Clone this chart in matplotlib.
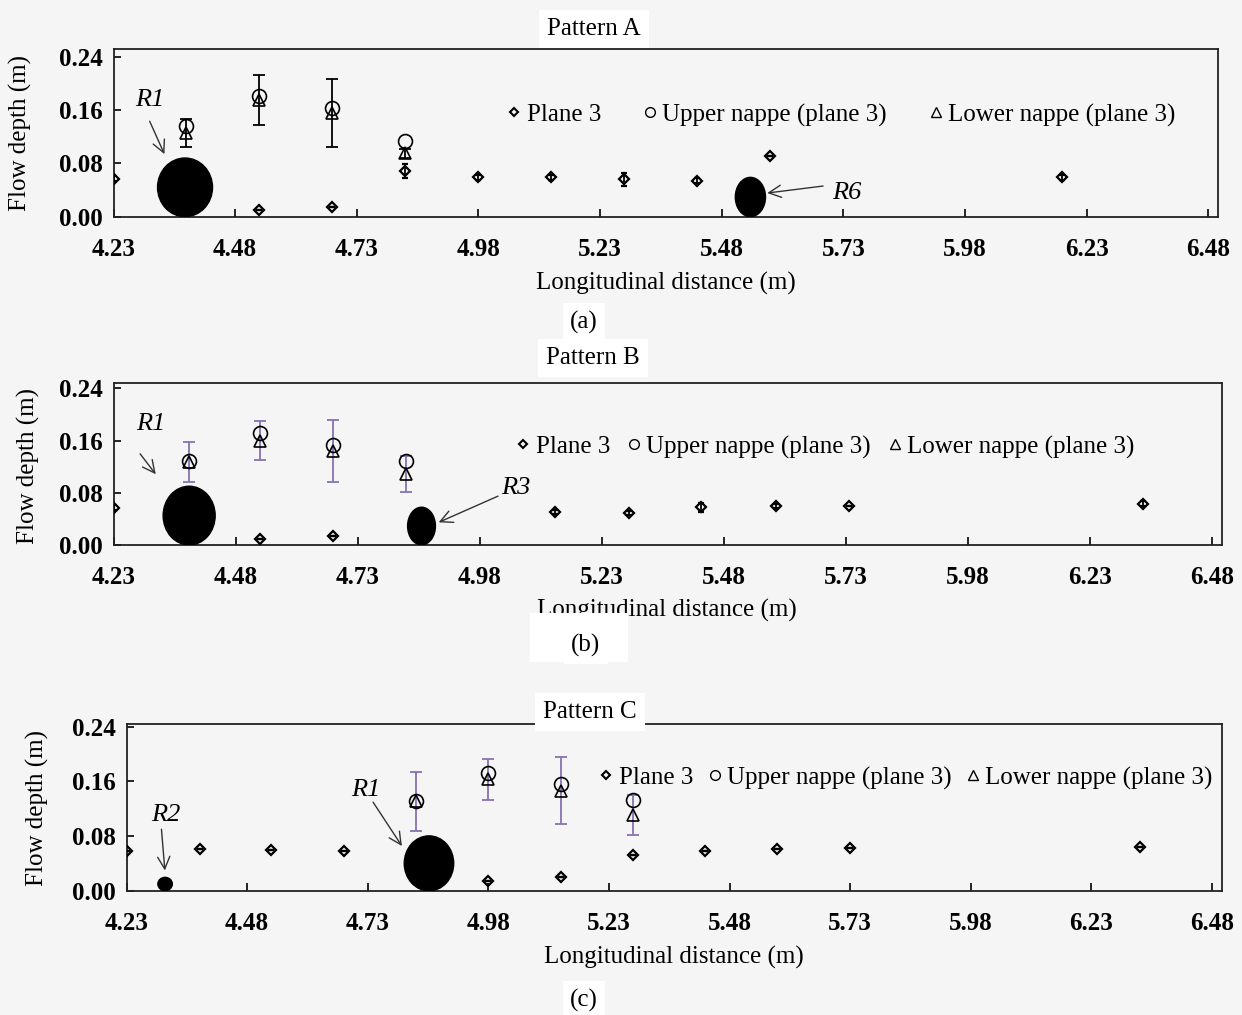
import matplotlib
matplotlib.use('Agg')
import matplotlib.pyplot as plt
from matplotlib.patches import Ellipse, Rectangle
from matplotlib.lines import Line2D
import numpy as np

plt.rcParams['font.family'] = ['Liberation Serif', 'DejaVu Serif']

W, H = 1242, 1015
BG = '#f5f5f5'
PURPLE = '#8672b0'
FS = 18

# --- Pattern A ---
a_plane_x = [4.23, 4.53, 4.68, 4.83, 4.98, 5.13, 5.28, 5.43, 5.58, 6.18]
a_plane_y = [0.057, 0.010, 0.015, 0.0685, 0.059, 0.059, 0.056, 0.054, 0.0915, 0.059]
a_plane_err = [0.004, 0, 0, 0.011, 0.004, 0.004, 0.010, 0.004, 0, 0.004]
a_nappe_x = [4.38, 4.53, 4.68, 4.83]
a_upper_y = [0.1365, 0.181, 0.1635, 0.114]
a_lower_y = [0.125, 0.175, 0.156, 0.095]
a_lower_err = [0.021, 0.037, 0.051, 0.007]
a_rock_x = [4.377, 5.539]
a_rock_y = [0.044, 0.0295]
a_rock_w = [0.113, 0.062]
a_rock_h = [0.088, 0.059]

# --- Pattern B ---
b_plane_x = [4.23, 4.53, 4.68, 5.135, 5.286, 5.433, 5.587, 5.737, 6.34]
b_plane_y = [0.057, 0.009, 0.014, 0.050, 0.0495, 0.0577, 0.060, 0.060, 0.063]
b_plane_err = [0.004, 0, 0, 0.003, 0.003, 0.007, 0.003, 0, 0.004]
b_nappe_x = [4.385, 4.53, 4.68, 4.83]
b_upper_y = [0.129, 0.171, 0.153, 0.129]
b_lower_y = [0.127, 0.160, 0.144, 0.109]
b_lower_err = [0.031, 0.030, 0.048, 0.028]
b_rock_x = [4.385, 4.861]
b_rock_y = [0.045, 0.029]
b_rock_w = [0.1066, 0.057]
b_rock_h = [0.090, 0.0577]

# --- Pattern C ---
c_plane_x = [4.23, 4.382, 4.53, 4.681, 4.98, 5.13, 5.28, 5.43, 5.578, 5.729, 6.33]
c_plane_y = [0.058, 0.061, 0.060, 0.058, 0.0146, 0.0195, 0.052, 0.0585, 0.0615, 0.063, 0.0644]
c_plane_err = [0] * 11
c_nappe_x = [4.83, 4.98, 5.13, 5.28]
c_upper_y = [0.132, 0.173, 0.156, 0.133]
c_lower_y = [0.131, 0.163, 0.146, 0.111]
c_lower_err = [0.043, 0.030, 0.049, 0.029]
c_rock_x = [4.31, 4.857]
c_rock_y = [0.0098, 0.040]
c_rock_w = [0.030, 0.1025]
c_rock_h = [0.0195, 0.0805]

x_ticks = [4.23, 4.48, 4.73, 4.98, 5.23, 5.48, 5.73, 5.98, 6.23, 6.48]
y_ticks = [0.00, 0.08, 0.16, 0.24]

# rock labels: (text, text x, text y, arrow tail x, tail y, head x, head y)
a_labels = [('R1', 4.305, 0.175, 4.302, 0.147, 4.337, 0.090),
            ('R6', 5.737, 0.035, 5.694, 0.0465, 5.568, 0.035)]
b_labels = [('R1', 4.306, 0.186, 4.281, 0.143, 4.320, 0.105),
            ('R3', 5.054, 0.087, 5.023, 0.0766, 4.891, 0.033)]
c_labels = [('R2', 4.312, 0.111, 4.302, 0.094, 4.310, 0.0255),
            ('R1', 4.726, 0.147, 4.738, 0.133, 4.804, 0.062)]


def px_box(left, top, right, bottom):
    return [left / W, 1 - bottom / H, (right - left) / W, (bottom - top) / H]


def px(x, y):
    return x / W, 1 - y / H


fig = plt.figure(figsize=(W / 100, H / 100), dpi=100, facecolor=BG)

panels = [
    dict(box=(113.5, 49, 1218, 216.7), ymax=0.2515, ecolor='black',
         plane=(a_plane_x, a_plane_y, a_plane_err),
         nappe=(a_nappe_x, a_upper_y, a_lower_y, a_lower_err),
         rocks=(a_rock_x, a_rock_y, a_rock_w, a_rock_h), labels=a_labels,
         leg=(0.357, 0.606, 1.7), title='Pattern A', title_xy=(594, 29),
         xlab_xy=(666, 283), tag='(a)', tag_xy=(584, 322), ylab_xy=(20, 133)),
    dict(box=(113.5, 382.7, 1221.6, 545), ymax=0.2485, ecolor=PURPLE,
         plane=(b_plane_x, b_plane_y, b_plane_err),
         nappe=(b_nappe_x, b_upper_y, b_lower_y, b_lower_err),
         rocks=(b_rock_x, b_rock_y, b_rock_w, b_rock_h), labels=b_labels,
         leg=(0.364, 0.604, 0.7), title='Pattern B', title_xy=(593, 358),
         xlab_xy=(667, 610), tag='(b)', tag_xy=(586, 645), ylab_xy=(28, 466)),
    dict(box=(126.5, 724, 1221.6, 890.7), ymax=0.244, ecolor=PURPLE,
         plane=(c_plane_x, c_plane_y, c_plane_err),
         nappe=(c_nappe_x, c_upper_y, c_lower_y, c_lower_err),
         rocks=(c_rock_x, c_rock_y, c_rock_w, c_rock_h), labels=c_labels,
         leg=(0.4325, 0.676, 0.6), title='Pattern C', title_xy=(590, 712),
         xlab_xy=(674, 957), tag='(c)', tag_xy=(584, 1000), ylab_xy=(37, 808)),
]

for p in panels:
    ax = fig.add_axes(px_box(*p['box']))
    ax.set_facecolor(BG)
    ax.set_xlim(4.23, 6.50)
    ax.set_ylim(0, p['ymax'])

    px_, py_, pe_ = p['plane']
    ax.errorbar(px_, py_, yerr=pe_, fmt='D', ms=5, mfc='none', mec='black', mew=1.6,
                ecolor='black', elinewidth=1.3, capsize=2.5, zorder=3)
    nx, uy, ly, le = p['nappe']
    ax.errorbar(nx, ly, yerr=le, fmt='none', ecolor=p['ecolor'], elinewidth=1.3,
                capsize=4, capthick=1.3, zorder=2)
    ax.plot(nx, uy, 'o', ms=10, mfc='none', mec='black', mew=1.2, zorder=3)
    ax.plot(nx, ly, '^', ms=9, mfc='none', mec='black', mew=1.2, zorder=3)

    rx, ry, rw, rh = p['rocks']
    for cx, cy, w, h in zip(rx, ry, rw, rh):
        ax.add_patch(Ellipse((cx, cy), w, h, facecolor='black', edgecolor='black', zorder=5))

    for txt, tx, ty, ax0, ay0, ax1, ay1 in p['labels']:
        ax.text(tx, ty, txt, fontsize=19, style='italic', ha='center', va='center', zorder=6)
        ax.annotate('', xy=(ax1, ay1), xytext=(ax0, ay0),
                    arrowprops=dict(arrowstyle='->', color='#333333', lw=1.0,
                                    mutation_scale=22), zorder=6)

    handles = [Line2D([], [], ls='none', marker='D', ms=4.5, mfc='none', mec='black', mew=1.5),
               Line2D([], [], ls='none', marker='o', ms=7, mfc='none', mec='black', mew=1.0),
               Line2D([], [], ls='none', marker='^', ms=6.5, mfc='none', mec='black', mew=1.0)]
    lx, ly_, cs = p['leg']
    ax.legend(handles, ['Plane 3', 'Upper nappe (plane 3)', 'Lower nappe (plane 3)'],
              ncol=3, loc='center left', bbox_to_anchor=(lx, ly_), frameon=False,
              fontsize=FS, handlelength=0.5, handletextpad=0.25, columnspacing=cs,
              borderpad=0, borderaxespad=0)

    ax.set_xticks(x_ticks)
    ax.set_xticklabels([f'{v:.2f}' for v in x_ticks], fontweight='bold', fontsize=FS)
    ax.set_yticks(y_ticks)
    ax.set_yticklabels([f'{v:.2f}' for v in y_ticks], fontweight='bold', fontsize=FS)
    ax.tick_params(axis='x', direction='in', length=6, width=1.2, pad=15)
    ax.tick_params(axis='y', direction='in', length=5, width=1.2, pad=8)
    for s in ax.spines.values():
        s.set_linewidth(1.3)
        s.set_color('#222222')

    fig.text(*px(*p['title_xy']), p['title'], fontsize=FS, ha='center', va='center',
             bbox=dict(facecolor='white', edgecolor='none', pad=6))
    fig.text(*px(*p['xlab_xy']), 'Longitudinal distance (m)', fontsize=FS,
             ha='center', va='center')
    fig.text(*px(*p['tag_xy']), p['tag'], fontsize=FS, ha='center', va='center',
             bbox=dict(facecolor='white', edgecolor='none', pad=5))
    fig.text(*px(*p['ylab_xy']), 'Flow depth (m)', fontsize=FS, rotation=90,
             ha='center', va='center')

# white patch that clips the bottom of the (b) axis title, as in the scan
fig.patches.append(Rectangle(px(530, 662), 98 / W, 49 / H, transform=fig.transFigure,
                             facecolor='white', edgecolor='none', zorder=10))
fig.text(*px(586, 645), '(b)', fontsize=FS, ha='center', va='center', zorder=11)

fig.savefig('out.png', dpi=100, facecolor=BG)
